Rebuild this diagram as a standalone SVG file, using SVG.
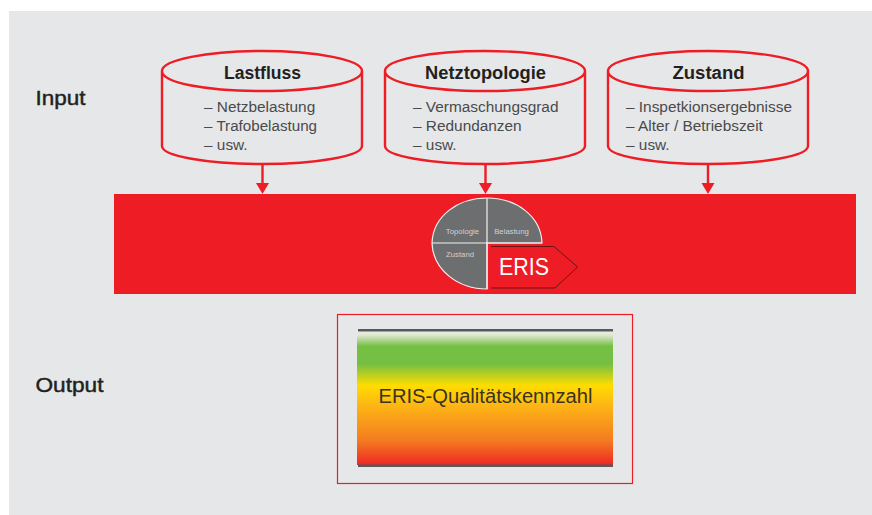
<svg xmlns="http://www.w3.org/2000/svg" width="872" height="515" viewBox="0 0 872 515">
<style>
text{font-family:"Liberation Sans",Arial,sans-serif}
.cyl{fill:none;stroke:#ee1c25;stroke-width:2.4}
.t{font-size:18px;font-weight:bold;fill:#231f20;text-anchor:middle;stroke:none}
.l{font-size:15.4px;fill:#4a4a4c}
.h{font-size:20.5px;fill:#231f20;stroke:#231f20;stroke-width:.45}
.w{font-size:7.8px;fill:#d0d0d0;text-anchor:middle}
.c{stroke:#ee1c25;stroke-width:2.4;fill:none}
.a{fill:#ee1c25}
</style>
<defs>
<linearGradient id="g" x1="0" y1="0" x2="0" y2="1">
<stop offset="0" stop-color="#f0f2ec"/>
<stop offset=".04" stop-color="#dce6cc"/>
<stop offset=".12" stop-color="#74bf44"/>
<stop offset=".25" stop-color="#74bf44"/>
<stop offset=".41" stop-color="#ffdd00"/>
<stop offset=".56" stop-color="#fdb515"/>
<stop offset=".82" stop-color="#f47b20"/>
<stop offset="1" stop-color="#ee2724"/>
</linearGradient>
</defs>
<rect x="9" y="11" width="863" height="504" fill="#e6e7e8"/>
<g id="connectors">
<path class="c" d="M262.500 164V184"/><path class="a" d="M256 183H269L262.500 194Z"/>
<path class="c" d="M485.500 164V184"/><path class="a" d="M479 183H492L485.500 194Z"/>
<path class="c" d="M708 164V184"/><path class="a" d="M701.500 183H714.500L708 194Z"/>
</g>
<g id="lastfluss">
<path class="cyl" d="M162 71C162 60 207 51 262 51S362 60 362 71C362 83 317 91 262 91S162 83 162 71V146C162 156 207 164 262 164S362 156 362 146V71"/>
<text class="t" x="262.500" y="79" textLength="77" lengthAdjust="spacingAndGlyphs">Lastfluss</text>
<text class="l" x="204" y="112">– Netzbelastung</text>
<text class="l" x="204" y="131" textLength="113" lengthAdjust="spacingAndGlyphs">– Trafobelastung</text>
<text class="l" x="204" y="150">– usw.</text>
</g>
<g id="netztopologie">
<path class="cyl" d="M385 71C385 60 430 51 485 51S585 60 585 71C585 83 540 91 485 91S385 83 385 71V146C385 156 430 164 485 164S585 156 585 146V71"/>
<text class="t" x="485.500" y="79" textLength="121" lengthAdjust="spacingAndGlyphs">Netztopologie</text>
<text class="l" x="413" y="112">– Vermaschungsgrad</text>
<text class="l" x="413" y="131">– Redundanzen</text>
<text class="l" x="413" y="150">– usw.</text>
</g>
<g id="zustand">
<path class="cyl" d="M608 71C608 60 653 51 708 51S808 60 808 71C808 83 763 91 708 91S608 83 608 71V146C608 156 653 164 708 164S808 156 808 146V71"/>
<text class="t" x="708.500" y="79" textLength="72" lengthAdjust="spacingAndGlyphs">Zustand</text>
<text class="l" x="626" y="112">– Inspetkionsergebnisse</text>
<text class="l" x="626" y="131">– Alter / Betriebszeit</text>
<text class="l" x="626" y="150">– usw.</text>
</g>
<g id="eris">
<rect x="114" y="194" width="742" height="100" fill="#ee1c25"/>
<path d="M432 243C433 216 458 198 487 198C516 198 541 216 542 243H487V289C458 289 433 270 432 243Z" fill="#6d6e70" stroke="#f1f1f1" stroke-width="1.200"/>
<path d="M487 198V289M432 243H542" stroke="#f1f1f1" stroke-width="1.200" fill="none"/>
<path d="M488 246H554L578 267L555 288H488Z" fill="#ee1c25"/>
<path d="M491 246.500H554L577.500 267L555 288H491" fill="none" stroke="#5b1416" stroke-width=".9"/>
<text class="w" x="462.500" y="234">Topologie</text>
<text class="w" x="511.500" y="234">Belastung</text>
<text class="w" x="460" y="257">Zustand</text>
<text x="499" y="274.500" font-size="23.500" fill="#fff" textLength="50" lengthAdjust="spacingAndGlyphs">ERIS</text>
</g>
<g id="output">
<rect x="337.500" y="314.500" width="295" height="169" fill="none" stroke="#ee1c25" stroke-width="1.200"/>
<rect x="357" y="330" width="256" height="135" fill="url(#g)"/>
<rect x="358" y="329" width="255" height="2.500" fill="#58595b"/>
<rect x="358" y="464.500" width="255" height="2.500" fill="#58595b"/>
<text x="378.500" y="403" font-size="20" fill="#3a3320" textLength="214" lengthAdjust="spacingAndGlyphs">ERIS-Qualitätskennzahl</text>
</g>
<text class="h" x="35.500" y="105" textLength="50" lengthAdjust="spacingAndGlyphs">Input</text>
<text class="h" x="35.500" y="392" textLength="68" lengthAdjust="spacingAndGlyphs">Output</text>
</svg>
